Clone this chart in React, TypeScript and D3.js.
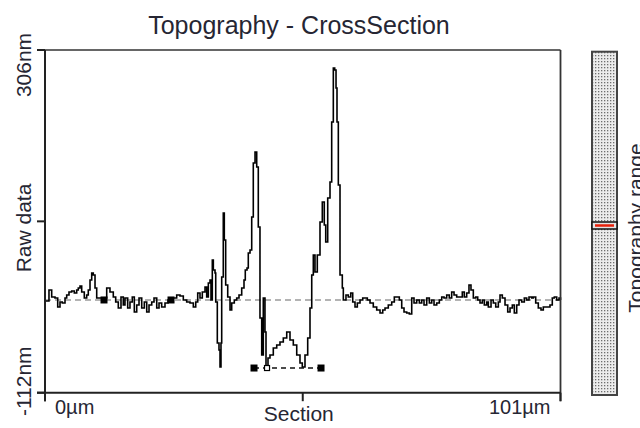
import React from "react";
import * as d3 from "d3";

// Cross-section profile: position along the section (µm) and raw height (nm)
const positionUm = [
  0.0, 0.78, 1.31, 1.96, 2.49, 2.94, 3.39, 3.92, 4.25, 4.7, 5.23, 5.74, 6.21, 6.52, 6.86, 7.19, 7.7, 8.17, 8.48, 8.82,
  9.15, 9.46, 9.8, 10.13, 10.97, 12.09, 12.73, 13.38, 13.85, 14.36, 14.89, 15.34, 15.67, 16.2, 16.65, 17.1, 17.5, 17.97,
  18.42, 18.95, 19.46, 19.93, 20.38, 20.91, 21.36, 21.89, 22.34, 22.86, 23.51, 24.1, 25.08,
  25.8, 26.45, 27.1, 27.76, 28.41, 29.06, 29.53, 29.92, 30.37, 30.82, 31.35, 31.68, 32.0, 32.33, 32.52, 32.78, 32.98,
  33.31, 33.45, 33.76, 34.09, 34.29, 34.48, 34.62, 34.93, 35.13, 35.4, 35.8, 36.25, 36.58, 37.09, 37.56, 38.01, 38.54,
  38.99, 39.24, 39.58, 39.83, 40.17, 40.5, 40.81, 41.15, 41.48, 41.79, 42.12, 42.46, 42.77, 43.1, 43.3, 43.69, 44.08,
  44.73, 45.4, 46.04, 46.69, 47.36, 48.0, 48.65, 49.32, 49.96, 50.41, 50.94, 51.47, 51.92, 52.26, 52.57, 52.9, 53.35,
  53.88, 54.33, 54.72, 55.0, 55.39, 55.84, 56.17, 56.49, 56.76, 57.02, 57.21, 57.47, 57.8, 58.25, 58.45,
  58.97, 59.42, 59.9, 60.29, 60.74, 61.19, 61.72, 62.25, 62.7, 63.15, 63.68, 64.32, 64.99, 65.64, 66.17, 66.62, 67.26,
  67.93, 68.44, 68.91, 69.42, 69.89, 70.34, 70.87, 71.38, 71.85, 72.3, 72.83, 73.34, 73.81, 74.26, 74.79, 75.3, 75.77,
  76.22, 76.75, 77.26, 77.73, 78.18, 78.7, 79.21, 79.68, 80.14, 80.66,
  81.31, 81.76, 82.15, 82.62, 83.07, 83.46, 83.92, 84.39, 84.78, 85.23, 85.68, 86.07, 86.54, 86.86, 87.39, 87.84, 88.31,
  88.82, 89.15, 89.6, 90.13, 90.66, 91.11, 91.56, 91.95, 92.42, 92.87, 93.4, 93.91, 94.38, 94.83, 95.36, 95.67, 96.14,
  96.65, 97.18, 97.63, 98.3, 98.94, 99.39, 99.79, 100.26, 100.71, 101.0,
];

const heightNm = [
  -0.1, 13.3, 4.8, 3.5, -7.4, -1.4, -2.6, 3.5, 7.2, 10.9, 12.1, 9.6, 13.3, 15.7, 18.2, 10.9, 3.5, 7.2, 13.3, 25.5,
  34.0, 31.6, 15.7, 3.5, 3.5, 15.7, 10.9, 4.8, -1.4, -8.7, 4.8, -5.0, 3.5, -8.7, -1.4, 4.8, -13.5, -5.0,
  3.5, -8.7, -1.4, -13.5, -5.0, -1.4, 3.5, -8.7, -2.6, -7.4, -2.6, 1.1, 3.5,
  7.2, 6.0, 1.1, -1.4, -2.6, -7.4, -1.4, 9.6, 3.5, 10.9, 17.0, 4.8, 21.8, 25.5, 1.1, 49.9, 37.7,
  34.0, -1.4, -51.4, -59.9, -80.6, -51.4, 29.1, 107.2, 74.3, 19.4, 4.8, -11.1, -2.6, 1.1, 3.5, 7.2, 15.7,
  25.5, 37.7, 40.1, 58.4, 62.1, 102.3, 168.2, 181.6, 163.3, 90.1, -20.9, -66.0, 3.5, -38.0, -80.6, -69.7, -66.0,
  -57.5, -53.8, -50.1, -45.3, -38.0, -47.7, -53.8, -66.0, -75.8, -80.6, -66.0, -45.3, -8.7, 31.6, 56.0, 35.2, 56.0,
  96.2, 120.6, 92.6, 71.8, 125.5, 145.0, 218.2, 284.1, 281.6, 259.7, 218.2, 141.4, 31.6, 15.7, 1.1,
  7.2, 4.8, 9.6, -1.4, -7.4, -2.6, 1.1, 3.5, 3.5, 1.1, -2.6, -7.4, -11.1, -14.8, -11.1, -8.7, -5.0,
  -1.4, 4.8, 4.8, 1.1, -8.7, -13.5, -14.8, -16.0, 3.5, -2.6, 1.1, -2.6, 1.1, -5.0, 3.5, -2.6, 1.1,
  -5.0, -2.6, 1.1, 4.8, 3.5, 7.2, 3.5, 10.9, 7.2, 4.8,
  4.8, 10.9, 4.8, 9.6, 19.4, 13.3, 3.5, 4.8, 1.1, -2.6, 1.1, -5.0, -1.4, -7.4, 1.1, -2.6, -7.4,
  -1.4, 7.2, 3.5, -5.0, -13.5, -8.7, -5.0, -14.8, -5.0, 1.1, -1.4, 3.5, 1.1, 4.8, 3.5, 4.8, -2.6,
  -8.7, -11.1, -7.4, -7.4, -5.0, 3.5, 4.8, 1.1, 3.5, 1.1,
];

// Axis range and tick values
const yDomainNm = [-112, 306];
const xDomainUm = [0, 101];
const yTicksNm = [-112, 97, 306];
const xTicksUm = [0, 50.5, 101];
const yTickLabels = ["-112nm", "", "306nm"];
const xStartLabel = "0µm";
const xEndLabel = "101µm";

// Reference level and cursor pairs
const referenceNm = 1.1;
const levelCursorsUm = [11.56, 24.69];
const depthCursorsUm = [40.95, 54.08];
const depthCursorNm = -81.9;
const depthPointUm = 43.5;

const titleText = "Topography - CrossSection";
const yTitle = "Raw data";
const xTitle = "Section";
const barTitle = "Topography range";

const FONT = "Arial, 'Liberation Sans', sans-serif";
const TEXT = "#262633";

export default function App() {
  const left = 45;
  const right = 560.5;
  const top = 50;
  const bottom = 392.7;

  const x = d3.scaleLinear().domain(xDomainUm).range([left, right]);
  const y = d3.scaleLinear().domain(yDomainNm).range([bottom, top]);

  const points = positionUm.map((p, i) => [p, heightNm[i]] as [number, number]);
  const line = d3
    .line<[number, number]>()
    .x((d) => x(d[0]))
    .y((d) => y(d[1]))
    .curve(d3.curveStepAfter);

  const barX = 592;
  const barW = 25;
  const barTop = 51.7;
  const barBottom = 395;
  const markerY = 225.5;

  return (
    <svg
      width={640}
      height={428}
      style={{ position: "absolute", left: 0, top: 0, background: "#fff" }}
      fontFamily={FONT}
    >
      <defs>
        <pattern id="rangeDots" width="3" height="3" patternUnits="userSpaceOnUse">
          <rect width="3" height="3" fill="#ececec" />
          <rect x="1" y="1" width="1.3" height="1.3" fill="#6e6e6e" />
        </pattern>
      </defs>

      <rect x={0} y={0} width={640} height={428} fill="#fff" />

      {/* title */}
      <text x={299} y={34} textAnchor="middle" fontSize={25} fill={TEXT}>
        {titleText}
      </text>

      {/* reference level */}
      <line
        x1={x(xDomainUm[0])}
        x2={x(xDomainUm[1])}
        y1={y(referenceNm)}
        y2={y(referenceNm)}
        stroke="#9a9a9a"
        strokeWidth={1.5}
        strokeDasharray="6 4"
      />

      {/* depth cursor connector */}
      <line
        x1={x(depthCursorsUm[0])}
        x2={x(depthCursorsUm[1])}
        y1={y(depthCursorNm)}
        y2={y(depthCursorNm)}
        stroke="#111"
        strokeWidth={1.5}
        strokeDasharray="5 4"
      />

      {/* profile */}
      <path d={line(points) ?? ""} fill="none" stroke="#000" strokeWidth={1.6} strokeLinejoin="miter" />

      {/* cursors */}
      {levelCursorsUm.map((u, i) => (
        <rect key={"l" + i} x={x(u) - 3.5} y={y(referenceNm) - 3.5} width={7} height={7} fill="#000" />
      ))}
      {depthCursorsUm.map((u, i) => (
        <rect key={"d" + i} x={x(u) - 3.5} y={y(depthCursorNm) - 3.5} width={7} height={7} fill="#000" />
      ))}
      <rect
        x={x(depthPointUm) - 2.5}
        y={y(depthCursorNm) - 2.5}
        width={5}
        height={5}
        fill="#fff"
        stroke="#000"
        strokeWidth={1.2}
      />

      {/* frame */}
      <line x1={left} x2={right} y1={top} y2={top} stroke="#333" strokeWidth={1.6} />
      <line x1={right} x2={right} y1={top} y2={bottom + 8.5} stroke="#333" strokeWidth={1.8} />
      <line x1={left} x2={left} y1={top} y2={bottom + 8.5} stroke="#222" strokeWidth={2} />
      <line x1={left - 8} x2={right} y1={bottom} y2={bottom} stroke="#222" strokeWidth={2} />

      {/* y ticks */}
      {yTicksNm.map((t) => (
        <line key={"yt" + t} x1={left - 8} x2={left} y1={y(t)} y2={y(t)} stroke="#222" strokeWidth={2} />
      ))}
      {/* x ticks */}
      {xTicksUm.map((t) => (
        <line key={"xt" + t} x1={x(t)} x2={x(t)} y1={bottom} y2={bottom + 8.5} stroke="#222" strokeWidth={2} />
      ))}

      {/* y labels */}
      <text transform={`translate(31,${y(yTicksNm[2]) + 15}) rotate(-90)`} textAnchor="middle" fontSize={21} fill={TEXT}>
        {yTickLabels[2]}
      </text>
      <text transform={`translate(31,228) rotate(-90)`} textAnchor="middle" fontSize={21} fill={TEXT}>
        {yTitle}
      </text>
      <text transform={`translate(31,${y(yTicksNm[0]) - 11.5}) rotate(-90)`} textAnchor="middle" fontSize={21} fill={TEXT}>
        {yTickLabels[0]}
      </text>

      {/* x labels */}
      <text x={x(xTicksUm[0]) + 10} y={414} fontSize={20} fill={TEXT}>
        {xStartLabel}
      </text>
      <text x={x(xTicksUm[2]) - 10} y={414} fontSize={20} textAnchor="end" fill={TEXT}>
        {xEndLabel}
      </text>
      <text x={x(xTicksUm[1]) - 4} y={421} fontSize={21} textAnchor="middle" fill={TEXT}>
        {xTitle}
      </text>

      {/* range bar */}
      <rect
        x={barX}
        y={barTop}
        width={barW}
        height={barBottom - barTop}
        fill="url(#rangeDots)"
        stroke="#444"
        strokeWidth={2}
      />
      <rect x={barX} y={markerY - 3.5} width={barW} height={7} fill="#e4e4e4" stroke="#111" strokeWidth={1.5} />
      <line x1={barX + 3} x2={barX + barW - 3} y1={markerY} y2={markerY} stroke="#e8200a" strokeWidth={2.5} />

      <text transform={`translate(643,228) rotate(-90)`} textAnchor="middle" fontSize={21} fill={TEXT}>
        {barTitle}
      </text>
    </svg>
  );
}
